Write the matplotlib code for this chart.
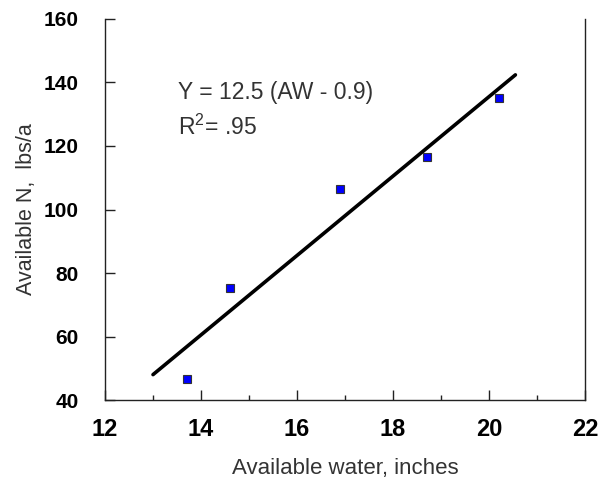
import numpy as np
import matplotlib
matplotlib.use("Agg")
import matplotlib.pyplot as plt
from matplotlib.ticker import MultipleLocator

# Data
water_in = [13.7, 14.6, 16.9, 18.7, 20.2]
avail_n = [46.5, 75.2, 106.6, 116.4, 135.2]

# Regression line endpoints
fit_x = [13.0, 20.55]
fit_y = [48.0, 142.4]

plt.rcParams['font.family'] = ['Liberation Sans', 'DejaVu Sans']

fig = plt.figure(figsize=(6.13, 4.83), dpi=100)
ax = fig.add_axes([0.1713, 0.1718, 0.7830, 0.7889])

ax.plot(fit_x, fit_y, color='black', linewidth=2.6, solid_capstyle='round', zorder=2)
ax.plot(water_in, avail_n, linestyle='none', marker='s', markersize=5.2,
        markerfacecolor='#0000ff', markeredgecolor='#333333', markeredgewidth=0.8, zorder=3)

ax.set_xlim(12, 22)
ax.set_ylim(40, 160)
ax.xaxis.set_major_locator(MultipleLocator(2))
ax.xaxis.set_minor_locator(MultipleLocator(1))
ax.yaxis.set_major_locator(MultipleLocator(20))

ax.spines['top'].set_visible(False)
for s in ['left', 'right', 'bottom']:
    ax.spines[s].set_linewidth(1.0)
    ax.spines[s].set_color('#222222')

ax.tick_params(axis='x', which='major', direction='in', length=7, width=1.0,
               color='#222222', pad=13, labelsize=17)
ax.tick_params(axis='x', which='minor', direction='in', length=3.5, width=1.0,
               color='#222222')
ax.tick_params(axis='y', which='major', direction='in', length=7, width=1.0,
               color='#222222', pad=19, labelsize=15)
for lab in ax.get_xticklabels():
    lab.set_fontweight('bold')
for lab in ax.get_yticklabels():
    lab.set_fontweight('bold')

ax.set_xlabel('Available water, inches', fontsize=16, color='#333333', labelpad=12)
ax.set_ylabel('Available N,  lbs/a', fontsize=15.5, color='#333333', labelpad=5)

ax.text(13.52, 137.0, 'Y = 12.5 (AW - 0.9)', fontsize=16.5, color='#333333', va='center')
ax.text(13.52, 126.0, r'R$^{\mathregular{2}}$= .95', fontsize=16.5, color='#333333', va='center')

plt.savefig('out.png', dpi=100)
